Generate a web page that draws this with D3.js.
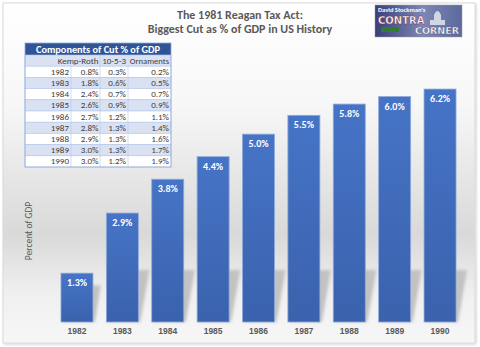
<!DOCTYPE html>
<html>
<head>
<meta charset="utf-8">
<script src="https://cdn.jsdelivr.net/npm/d3@7"></script>
<style>
  body { margin: 0; background: #fff; }
  svg { display: block; font-family: Carlito, "Open Sans", "Liberation Sans", sans-serif; }
</style>
</head>
<body>
<div id="chart"></div>
<script>
// chart data
let years = ["1982", "1983", "1984", "1985", "1986", "1987", "1988", "1989", "1990"];
let totalCut = [1.3, 2.9, 3.8, 4.4, 5.0, 5.5, 5.8, 6.0, 6.2];

// table data
let tableTitle = "Components of Cut % of GDP";
let tableHeads = ["", "Kemp-Roth", "10-5-3", "Ornaments"];
let kempRoth = ["0.8%", "1.8%", "2.4%", "2.6%", "2.7%", "2.8%", "2.9%", "3.0%", "3.0%"];
let tenFiveThree = ["0.3%", "0.6%", "0.7%", "0.9%", "1.2%", "1.3%", "1.3%", "1.3%", "1.2%"];
let ornaments = ["0.2%", "0.5%", "0.7%", "0.9%", "1.1%", "1.4%", "1.6%", "1.7%", "1.9%"];

let W = 480, H = 347;
let svg = d3.select("#chart").append("svg")
    .attr("width", W)
    .attr("height", H);

let defs = svg.append("defs");

let bg = defs.append("linearGradient").attr("id", "bg")
    .attr("x1", 0).attr("y1", 0).attr("x2", 0).attr("y2", 1);
[[0, "#ffffff"], [0.3, "#f7f7f7"], [0.68, "#d9d9d9"], [0.85, "#efefef"], [1, "#f7f7f7"]]
    .forEach(s => bg.append("stop").attr("offset", s[0]).attr("stop-color", s[1]));

let barGrad = defs.append("linearGradient").attr("id", "barGrad")
    .attr("x1", 0).attr("y1", 0).attr("x2", 0).attr("y2", 1);
barGrad.append("stop").attr("offset", 0).attr("stop-color", "#4674c6");
barGrad.append("stop").attr("offset", 1).attr("stop-color", "#3a62ad");

let logoGrad = defs.append("linearGradient").attr("id", "logoGrad")
    .attr("x1", 0).attr("y1", 0).attr("x2", 1).attr("y2", 0);
logoGrad.append("stop").attr("offset", 0).attr("stop-color", "#3b3f7a");
logoGrad.append("stop").attr("offset", 0.55).attr("stop-color", "#7d86b4");
logoGrad.append("stop").attr("offset", 1).attr("stop-color", "#5a6a9c");

defs.append("filter").attr("id", "blur")
    .append("feGaussianBlur").attr("stdDeviation", 1.6);
defs.append("filter").attr("id", "frameShadow")
    .append("feDropShadow").attr("dx", 1).attr("dy", 1).attr("stdDeviation", 1.2)
    .attr("flood-color", "#000").attr("flood-opacity", 0.18);

// frame
svg.append("rect")
    .attr("x", 3).attr("y", 3).attr("width", 472).attr("height", 340)
    .attr("fill", "url(#bg)")
    .attr("stroke", "#d9d9d9")
    .attr("filter", "url(#frameShadow)");

// scales
let x = d3.scaleBand().domain(years).range([54.3, 462.7]).paddingInner(0.295).paddingOuter(0.147);
let y = d3.scaleLinear().domain([0, 7]).range([322, 59]);

// floor shadows
let shadowTop = 270, skew = 11;
svg.append("g").attr("filter", "url(#blur)")
    .selectAll("path").data(years).join("path")
    .attr("d", (d, i) => {
        let l = x(d), r = x(d) + x.bandwidth();
        let t = Math.max(shadowTop, y(totalCut[i]) + 12);
        let k = skew * (y(0) - t) / (y(0) - shadowTop);
        return `M${l + 2},${y(0)} L${r + 2},${y(0)} L${r + k},${t} L${l + k},${t} Z`;
    })
    .attr("fill", "#c2c2c2");

// bars
svg.append("g").selectAll("rect").data(years).join("rect")
    .attr("x", d => x(d))
    .attr("y", (d, i) => y(totalCut[i]))
    .attr("width", x.bandwidth())
    .attr("height", (d, i) => y(0) - y(totalCut[i]))
    .attr("fill", "url(#barGrad)")
    .attr("stroke", "#8eaadb")
    .attr("stroke-width", 0.8);

// value labels
svg.append("g").selectAll("text").data(years).join("text")
    .attr("x", d => x(d) + x.bandwidth() / 2)
    .attr("y", (d, i) => y(totalCut[i]) + 13)
    .attr("text-anchor", "middle")
    .attr("fill", "#ffffff")
    .attr("font-size", 10)
    .attr("font-weight", "bold")
    .text((d, i) => totalCut[i].toFixed(1) + "%");

// x axis
let xAxis = svg.append("g")
    .attr("transform", `translate(0,${y(0)})`)
    .call(d3.axisBottom(x).tickSize(0).tickPadding(6));
xAxis.select(".domain").remove();
xAxis.selectAll("text")
    .attr("fill", "#595959")
    .attr("font-size", 8.5)
    .attr("font-weight", "bold")
    .attr("font-family", "inherit");

// y axis title
svg.append("text")
    .attr("transform", "translate(32,231) rotate(-90)")
    .attr("text-anchor", "middle")
    .attr("fill", "#595959")
    .attr("font-size", 9.5)
    .text("Percent of GDP");

// title
let title = svg.append("text")
    .attr("text-anchor", "middle")
    .attr("fill", "#595959")
    .attr("font-size", 12)
    .attr("font-weight", "bold");
title.append("tspan").attr("x", 240).attr("y", 19).text("The 1981 Reagan Tax Act:");
title.append("tspan").attr("x", 240).attr("y", 33).text("Biggest Cut as % of GDP in US History");

// logo
let logo = svg.append("g").attr("transform", "translate(375,5)");
logo.append("rect").attr("width", 87).attr("height", 32).attr("fill", "url(#logoGrad)")
    .attr("stroke", "#9a9a9a").attr("stroke-width", 0.5);
logo.append("path")
    .attr("d", "M55,20 L55,15 L59,15 L59,10 Q62.5,2 66,10 L66,15 L70,15 L70,20 Z")
    .attr("fill", "#e8ecf4").attr("opacity", 0.8);
logo.append("text").attr("x", 3).attr("y", 7).attr("font-size", 6.5).attr("font-weight", "bold")
    .attr("fill", "#ffffff").text("David Stockman's");
logo.append("text").attr("x", 3).attr("y", 19).attr("font-size", 10).attr("font-weight", "bold")
    .attr("fill", "#ffffff").attr("stroke", "#7a2a3a").attr("stroke-width", 0.4)
    .attr("font-family", "'DejaVu Sans', sans-serif").text("CONTRA");
logo.append("rect").attr("x", 6).attr("y", 22).attr("width", 18).attr("height", 5).attr("fill", "#2e7d32");
logo.append("text").attr("x", 40).attr("y", 29).attr("font-size", 9.5).attr("font-weight", "bold")
    .attr("fill", "#ffffff").attr("stroke", "#555a7a").attr("stroke-width", 0.4)
    .attr("font-family", "'DejaVu Sans', sans-serif").text("CORNER");

// table
let tx = 25, tw = 146, tyTop = 43, headH = 12, rowH = 11.2;
let colRight = [69, 98.5, 126, 169];
let colLines = [71, 100, 128];
let tbl = svg.append("g");

tbl.append("rect").attr("x", tx).attr("y", tyTop).attr("width", tw).attr("height", headH)
    .attr("fill", "#2f5597");
tbl.append("text").attr("x", tx + tw / 2).attr("y", tyTop + 9.6)
    .attr("text-anchor", "middle").attr("fill", "#ffffff")
    .attr("font-size", 10.3).attr("font-weight", "bold").text(tableTitle);

let rows = [tableHeads].concat(years.map((yr, i) => [yr, kempRoth[i], tenFiveThree[i], ornaments[i]]));
let rowG = tbl.selectAll("g.row").data(rows).join("g")
    .attr("class", "row")
    .attr("transform", (d, i) => `translate(0,${tyTop + headH + i * rowH})`);
rowG.append("rect")
    .attr("x", tx).attr("width", tw).attr("height", rowH)
    .attr("fill", (d, i) => i % 2 === 0 ? "#d9e1f2" : "#ffffff")
    .attr("stroke", "#b4c6e7").attr("stroke-width", 0.6);
rowG.selectAll("line").data((d, i) => i === 0 ? colLines.slice(1, 2) : colLines).join("line")
    .attr("x1", d => d).attr("x2", d => d)
    .attr("y1", 0).attr("y2", rowH)
    .attr("stroke", "#b4c6e7").attr("stroke-width", 0.6);
rowG.selectAll("text").data(d => d).join("text")
    .attr("x", (d, j) => colRight[j])
    .attr("y", rowH - 2.6)
    .attr("text-anchor", "end")
    .attr("fill", "#404040")
    .attr("font-size", (d, j) => j === 3 && !d.endsWith("%") ? 8.6 : 9)
    .text(d => d);
tbl.append("rect").attr("x", tx).attr("y", tyTop).attr("width", tw)
    .attr("height", headH + rows.length * rowH)
    .attr("fill", "none").attr("stroke", "#8eaadb").attr("stroke-width", 0.8);
</script>
</body>
</html>
